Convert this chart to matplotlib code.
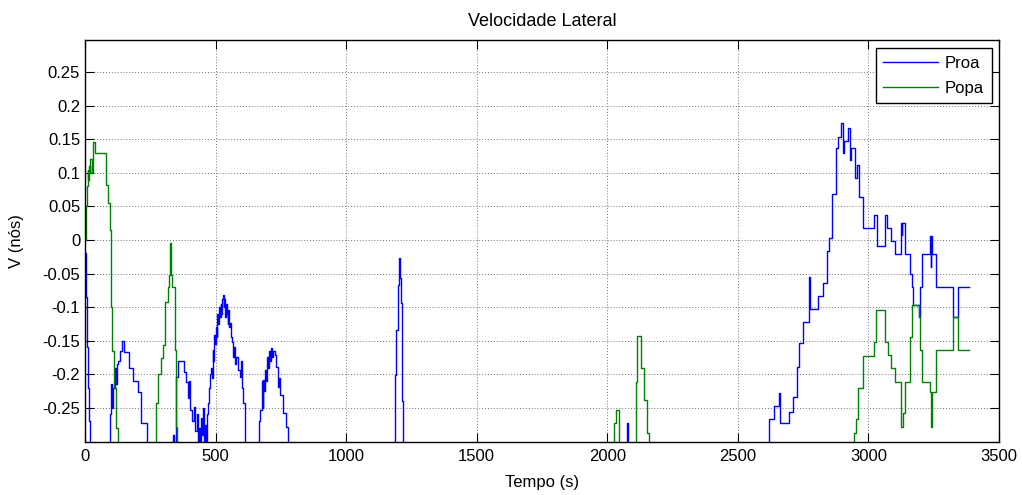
import matplotlib
matplotlib.use("Agg")
import matplotlib.pyplot as plt
import numpy as np

plt.rcParams['font.family'] = ['Liberation Sans', 'DejaVu Sans']
plt.rcParams['axes.unicode_minus'] = False

# Lateral velocity (knots) over time (s); values below the axis floor sit at -0.40
proa_t = [0, 3, 6, 10, 15, 20,
          96, 101, 104, 108, 114, 118, 122, 128, 133, 140, 148, 170, 182, 204, 214, 236,
          336, 342, 350, 358, 378, 385, 393, 398, 402, 410, 418, 423, 428, 432, 437, 441,
          445, 449, 452, 455, 459, 463,
          466, 470, 474, 478, 482, 486, 489, 492, 495, 498, 501, 504, 507, 510, 513, 516,
          519, 522, 525, 528, 531, 534, 537, 540, 543, 546, 549, 552, 555, 560, 563, 568,
          572, 576, 580, 584, 592, 598, 601, 605, 612,
          668, 672, 676, 680, 683, 686, 689, 693, 697, 701, 705, 708, 712, 716, 720, 727,
          733, 740, 744, 748, 759, 769, 778,
          1186, 1190, 1197, 1201, 1205, 1209, 1212, 1214, 1215, 1217,
          2074, 2081,
          2621, 2637, 2657, 2661, 2695, 2711, 2726, 2734, 2749, 2771, 2775, 2806, 2825,
          2842, 2848, 2861, 2874, 2883, 2894, 2902, 2905, 2920, 2930, 2934, 2947, 2957,
          2962, 2979, 3023, 3032, 3064, 3070, 3087, 3101, 3123, 3127, 3129, 3141, 3161,
          3165, 3169, 3192, 3197, 3206, 3234, 3238, 3241, 3244, 3260, 3323, 3342, 3384]
proa_v = [-0.02, -0.085, -0.16, -0.22, -0.27, -0.40,
          -0.26, -0.215, -0.25, -0.22, -0.19, -0.215, -0.185, -0.18, -0.165, -0.15, -0.167,
          -0.19, -0.21, -0.227, -0.273, -0.40,
          -0.29, -0.40, -0.204, -0.18, -0.197, -0.212, -0.236, -0.21, -0.253, -0.27, -0.249,
          -0.285, -0.26, -0.40, -0.28, -0.40,
          -0.265, -0.29, -0.25, -0.40, -0.275, -0.40,
          -0.26, -0.243, -0.22, -0.20, -0.19, -0.205, -0.164, -0.18, -0.142, -0.155, -0.13,
          -0.145, -0.11, -0.125, -0.10, -0.115,
          -0.095, -0.11, -0.088, -0.082, -0.10, -0.088, -0.115, -0.095, -0.11, -0.125,
          -0.105, -0.13, -0.124, -0.145, -0.152, -0.174,
          -0.16, -0.185, -0.175, -0.194, -0.204, -0.18, -0.22, -0.243, -0.40,
          -0.27, -0.253, -0.21, -0.25, -0.209, -0.225, -0.194, -0.21, -0.174, -0.19, -0.165,
          -0.18, -0.161, -0.175, -0.165, -0.171,
          -0.189, -0.219, -0.205, -0.231, -0.258, -0.279, -0.40,
          -0.201, -0.134, -0.067, -0.027, -0.057, -0.094, -0.109, -0.224, -0.24, -0.40,
          -0.272, -0.40,
          -0.266, -0.247, -0.228, -0.273, -0.256, -0.234, -0.189, -0.154, -0.122, -0.055,
          -0.103, -0.083, -0.064,
          -0.016, 0.003, 0.069, 0.137, 0.154, 0.175, 0.13, 0.147, 0.167, 0.119, 0.137,
          0.092, 0.112,
          0.064, 0.018, 0.037, -0.009, 0.037, 0.018, -0.001, -0.021, 0.025, 0.007, 0.025,
          -0.021, -0.051,
          -0.07, -0.097, -0.115, -0.07, -0.021, 0.006, -0.04, 0.006, -0.021, -0.07,
          -0.115, -0.07, -0.07]

popa_t = [0, 2, 6, 10, 13, 15, 18, 20, 25, 30, 38, 80, 88, 95, 99, 105, 112, 120, 127,
          272, 278, 290, 300, 308, 316, 322, 325, 331, 335, 344, 348, 354,
          2026, 2032, 2044, 2109, 2114, 2129, 2140, 2153, 2158,
          2944, 2953, 2960, 2979, 3023, 3030, 3064, 3074, 3087, 3101, 3123, 3132, 3141,
          3161, 3165, 3192, 3197, 3206, 3234, 3240, 3244, 3260, 3323, 3342, 3384]
popa_v = [0.0, 0.05, 0.08, 0.105, 0.09, 0.11, 0.10, 0.12, 0.10, 0.146, 0.13, 0.082,
          0.055, 0.015, -0.10, -0.165, -0.22, -0.28, -0.40,
          -0.243, -0.20, -0.176, -0.157, -0.092, -0.07, -0.052, -0.005, -0.052, -0.07,
          -0.164, -0.279, -0.40,
          -0.272, -0.253, -0.40, -0.211, -0.143, -0.191, -0.239, -0.287, -0.40,
          -0.287, -0.266, -0.221, -0.173, -0.152, -0.105, -0.152, -0.172, -0.191, -0.211,
          -0.278, -0.258, -0.211,
          -0.144, -0.097, -0.115, -0.164, -0.211, -0.227, -0.278, -0.227, -0.164, -0.115,
          -0.164, -0.164]

x_ticks = [0, 500, 1000, 1500, 2000, 2500, 3000, 3500]
y_ticks = [0.25, 0.2, 0.15, 0.1, 0.05, 0, -0.05, -0.1, -0.15, -0.2, -0.25]
y_tick_labels = ['0.25', '0.2', '0.15', '0.1', '0.05', '0', '-0.05', '-0.1', '-0.15',
                 '-0.2', '-0.25']

fig = plt.figure(figsize=(10.22, 4.95), dpi=100)
ax = fig.add_axes([85 / 1022, 1 - 442 / 495, (999 - 85) / 1022, (442 - 40) / 495])

ax.plot(proa_t, proa_v, drawstyle='steps-post', color=(0, 0, 1), lw=1.0, label='Proa')
ax.plot(popa_t, popa_v, drawstyle='steps-post', color=(0, 0.5, 0), lw=1.0, label='Popa')

ax.set_xlim(0, 3500)
ax.set_ylim(-0.301, 0.298)
ax.set_xticks(x_ticks)
ax.set_xticklabels([str(v) for v in x_ticks])
ax.set_yticks(y_ticks)
ax.set_yticklabels(y_tick_labels)

ax.grid(True, color='0.45', linestyle=(0, (1, 2)), linewidth=0.7)
ax.tick_params(direction='in', length=6.5, width=0.8, top=True, right=True,
               labelsize=12, colors='black')
ax.tick_params(axis='y', pad=3.5)
ax.tick_params(axis='x', pad=5)
for s in ax.spines.values():
    s.set_linewidth(1.0)
    s.set_color('black')

ax.set_title('Velocidade Lateral', fontsize=13, pad=10)
ax.set_xlabel('Tempo (s)', fontsize=12, labelpad=8)
ax.set_ylabel('V (nós)', fontsize=12, labelpad=13)

leg = ax.legend(loc='upper right', bbox_to_anchor=(0.992, 0.979), borderaxespad=0,
                fontsize=12, handlelength=3.3, handletextpad=0.4, labelspacing=0.6,
                borderpad=0.45, fancybox=False, framealpha=1, edgecolor='black')
leg.get_frame().set_linewidth(1.0)

fig.savefig('out.png', dpi=100, facecolor='white')
